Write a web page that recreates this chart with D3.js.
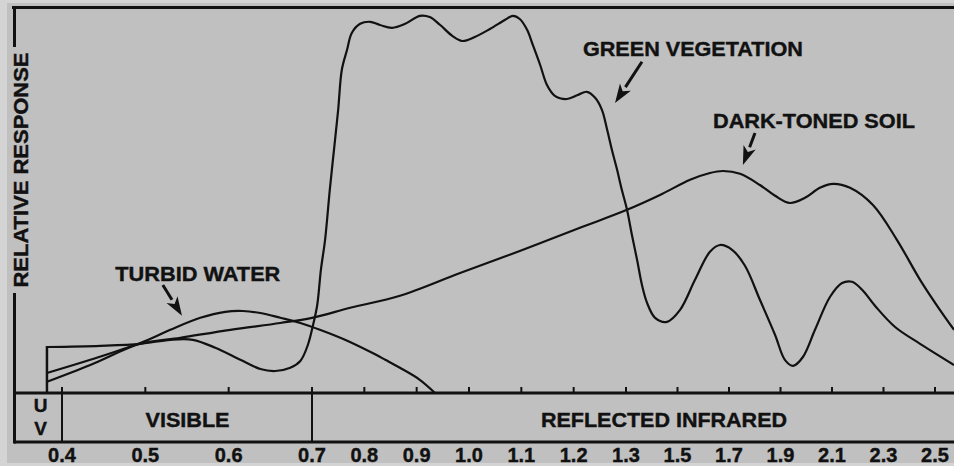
<!DOCTYPE html>
<html lang="en">
<head>
    <meta charset="UTF-8">
    <title>Spectral response</title>
    <script src="https://d3js.org/d3.v7.min.js"></script>
    <style>
        body {margin: 0; background: #d4d4d4;}
        text {font-family: "Liberation Sans", Arial, sans-serif; font-weight: bold; fill: #111;
              stroke: #111; stroke-width: 0.4px;}
    </style>
</head>
<body>
<script>
    const width = 954;
    const height = 466;

    // wavelength (micrometres) ticks and their labels
    const tickValues = [0.4, 0.5, 0.6, 0.7, 0.8, 0.9, 1.0, 1.1, 1.2, 1.3, 1.5, 1.7, 1.9, 2.1, 2.3, 2.5];
    const tickLabels = ["0.4", "0.5", "0.6", "0.7", "0.8", "0.9", "1.0", "1.1", "1.2", "1.3", "1.5", "1.7", "1.9", "2.1", "2.3", "2.5"];

    // spectral bands along the bottom
    const bandNames = ["UV", "VISIBLE", "REFLECTED INFRARED"];
    const bandEdges = [0.3, 0.4, 0.7, 2.6];

    // curves start here (all three), response on a 0-100 relative scale
    const startWavelength = 0.368;

    const vegetationWavelength = [0.368, 0.446, 0.494, 0.530, 0.557, 0.584, 0.614, 0.638, 0.656, 0.674, 0.686, 0.695,
        0.702, 0.710, 0.717, 0.725, 0.734, 0.742, 0.750, 0.757, 0.767, 0.776, 0.792, 0.811, 0.830, 0.853, 0.878, 0.906,
        0.925, 0.945, 0.968, 0.987, 1.011, 1.040, 1.069, 1.084, 1.097, 1.111, 1.122, 1.136, 1.149, 1.164, 1.187, 1.208,
        1.225, 1.241, 1.254, 1.264, 1.273, 1.283, 1.292, 1.304, 1.323, 1.343, 1.362, 1.382, 1.413, 1.459, 1.510, 1.568,
        1.626, 1.665, 1.712, 1.762, 1.820, 1.879, 1.917, 1.949, 1.987, 2.034, 2.092, 2.139, 2.178, 2.217, 2.267, 2.345,
        2.442, 2.574];
    const vegetationResponse = [11.5, 11.8, 12.3, 13.3, 13.3, 11.3, 8.3, 6.0, 5.5, 6.3, 8.0, 12.0,
        17.0, 22.0, 30.8, 38.3, 50.8, 60.8, 70.8, 80.8, 85.8, 90.0, 92.3, 92.8, 92.0, 91.3, 92.3, 94.3,
        94.0, 92.0, 89.3, 88.0, 89.0, 91.0, 93.3, 94.3, 93.5, 90.8, 87.0, 82.0, 77.0, 74.3, 73.5, 74.5,
        75.3, 73.8, 70.8, 65.8, 60.8, 55.8, 50.8, 45.8, 39.5, 33.3, 27.0, 22.5, 18.8, 17.8, 20.8, 28.3,
        35.3, 37.0, 35.8, 31.8, 23.3, 14.5, 8.3, 6.8, 9.0, 15.8, 24.0, 27.5, 27.8, 25.8, 21.8, 16.5,
        12.3, 7.0];

    const waterWavelength = [0.368, 0.434, 0.494, 0.530, 0.566, 0.596, 0.617, 0.638, 0.662, 0.686, 0.715, 0.763,
        0.811, 0.840, 0.868, 0.906, 0.935];
    const waterResponse = [5.0, 8.3, 12.5, 15.8, 18.8, 20.3, 20.5, 20.0, 18.8, 17.5, 15.8, 13.3,
        10.3, 8.3, 6.3, 3.3, 0];

    const soilWavelength = [0.368, 0.434, 0.494, 0.542, 0.602, 0.662, 0.700, 0.773, 0.868, 0.983, 1.097, 1.212,
        1.304, 1.432, 1.549, 1.626, 1.677, 1.743, 1.820, 1.879, 1.937, 1.995, 2.053, 2.104, 2.170, 2.259, 2.352,
        2.442, 2.519, 2.574];
    const soilResponse = [2.8, 7.0, 12.3, 13.8, 15.8, 17.5, 18.8, 21.3, 24.3, 30.0, 35.5, 41.3,
        45.8, 49.5, 53.3, 55.0, 55.5, 54.8, 52.0, 49.3, 47.5, 48.8, 51.3, 52.3, 51.3, 47.0, 38.3,
        28.3, 20.8, 15.8];

    // curve labels with arrows
    const curveNames = ["TURBID WATER", "GREEN VEGETATION", "DARK-TONED SOIL"];
    const labelAt = [[0.563, 28], [1.560, 84.3], [2.030, 66.3]];
    const arrowFrom = [[0.521, 27], [1.362, 82.8], [1.801, 65]];
    const arrowTo = [[0.544, 19.3], [1.279, 72.5], [1.754, 57]];
    const labelLength = [165, 220, 202];

    const svg = d3.select("body").append("svg")
            .attr("width", width).attr("height", height);

    svg.append("rect")
            .attr("x", 7).attr("y", 3)
            .attr("width", width - 7).attr("height", 460)
            .style("fill", "#c0c0c0");

    // axis is piecewise: the visible band is stretched
    const x = d3.scaleLinear()
            .domain([0.3, 0.4, 0.7, 1.3, 2.5])
            .range([15, 62, 312, 626, 935]);
    const y = d3.scaleLinear().domain([0, 100]).range([393, -7]);

    const boxBottom = 442;

    // frame: top line and left axis
    svg.append("line")
            .attr("x1", 12).attr("x2", width).attr("y1", 7.5).attr("y2", 7.5)
            .style("stroke", "#111").style("stroke-width", 3);
    svg.append("line")
            .attr("x1", 14.5).attr("x2", 14.5).attr("y1", 6).attr("y2", 47)
            .style("stroke", "#111").style("stroke-width", 3);
    svg.append("line")
            .attr("x1", 14.5).attr("x2", 14.5).attr("y1", 293).attr("y2", boxBottom + 1.5)
            .style("stroke", "#111").style("stroke-width", 3);

    svg.append("text")
            .attr("transform", "translate(28,170) rotate(-90)")
            .attr("text-anchor", "middle")
            .attr("textLength", 235).attr("lengthAdjust", "spacingAndGlyphs")
            .style("font-size", "20px")
            .text("RELATIVE RESPONSE");

    // band box
    svg.append("line")
            .attr("x1", 14).attr("x2", width).attr("y1", y(0)).attr("y2", y(0))
            .style("stroke", "#111").style("stroke-width", 3);
    svg.append("line")
            .attr("x1", 14).attr("x2", width).attr("y1", boxBottom).attr("y2", boxBottom)
            .style("stroke", "#111").style("stroke-width", 3);

    svg.selectAll("line.edge")
            .data(bandEdges.slice(1, -1))
            .enter().append("line")
            .attr("class", "edge")
            .attr("x1", d => x(d)).attr("x2", d => x(d))
            .attr("y1", y(0) - 6).attr("y2", boxBottom)
            .style("stroke", "#111").style("stroke-width", 2);

    svg.selectAll("line.tick")
            .data(tickValues)
            .enter().append("line")
            .attr("class", "tick")
            .attr("x1", d => x(d)).attr("x2", d => x(d))
            .attr("y1", y(0) - 6).attr("y2", y(0))
            .style("stroke", "#111").style("stroke-width", 2);

    svg.selectAll("text.ticklabel")
            .data(tickValues)
            .enter().append("text")
            .attr("class", "ticklabel")
            .attr("x", d => x(d)).attr("y", 462)
            .attr("text-anchor", "middle")
            .style("font-size", "20px")
            .text((d, i) => tickLabels[i]);

    // band names
    const uvMid = (x(bandEdges[0]) + x(bandEdges[1])) / 2 + 2;
    svg.append("text").attr("x", uvMid).attr("y", 412).attr("text-anchor", "middle")
            .style("font-size", "19px").text(bandNames[0][0]);
    svg.append("text").attr("x", uvMid).attr("y", 435).attr("text-anchor", "middle")
            .style("font-size", "19px").text(bandNames[0][1]);
    svg.append("text")
            .attr("x", (x(bandEdges[1]) + x(bandEdges[2])) / 2 + 0.5).attr("y", 427)
            .attr("text-anchor", "middle")
            .attr("textLength", 84).attr("lengthAdjust", "spacingAndGlyphs")
            .style("font-size", "20px").text(bandNames[1]);
    svg.append("text")
            .attr("x", 664).attr("y", 427)
            .attr("text-anchor", "middle")
            .attr("textLength", 246).attr("lengthAdjust", "spacingAndGlyphs")
            .style("font-size", "20px").text(bandNames[2]);

    // curves
    const line = d3.line()
            .x(d => x(d[0]))
            .y(d => y(d[1]))
            .curve(d3.curveCatmullRom.alpha(0.5));

    const series = [
        d3.zip(waterWavelength, waterResponse),
        d3.zip(vegetationWavelength, vegetationResponse),
        d3.zip(soilWavelength, soilResponse)
    ];

    svg.append("line")
            .attr("x1", x(startWavelength)).attr("x2", x(startWavelength))
            .attr("y1", y(0)).attr("y2", y(d3.max([vegetationResponse[0], waterResponse[0], soilResponse[0]])) - 1)
            .style("stroke", "#111").style("stroke-width", 2.5);

    svg.selectAll("path.curve")
            .data(series)
            .enter().append("path")
            .attr("class", "curve")
            .attr("d", line)
            .style("fill", "none")
            .style("stroke", "#111")
            .style("stroke-width", 2.2);

    // labels and arrows
    curveNames.forEach(function(name, i) {
        svg.append("text")
                .attr("x", x(labelAt[i][0])).attr("y", y(labelAt[i][1]))
                .attr("text-anchor", "middle")
                .attr("textLength", labelLength[i]).attr("lengthAdjust", "spacingAndGlyphs")
                .style("font-size", "20px")
                .text(name);

        const x0 = x(arrowFrom[i][0]), y0 = y(arrowFrom[i][1]);
        const x1 = x(arrowTo[i][0]), y1 = y(arrowTo[i][1]);
        const len = Math.hypot(x1 - x0, y1 - y0);
        const ux = (x1 - x0) / len, uy = (y1 - y0) / len;
        const head = 19, half = 6.5;
        const bx = x1 - ux * head, by = y1 - uy * head;

        svg.append("line")
                .attr("x1", x0).attr("y1", y0).attr("x2", bx).attr("y2", by)
                .style("stroke", "#111").style("stroke-width", 3);
        svg.append("path")
                .attr("d", "M" + x1 + "," + y1 +
                        "L" + (bx - uy * half) + "," + (by + ux * half) +
                        "L" + (bx + ux * 5) + "," + (by + uy * 5) +
                        "L" + (bx + uy * half) + "," + (by - ux * half) + "Z")
                .style("fill", "#111");
    });

</script>

</body>
</html>
